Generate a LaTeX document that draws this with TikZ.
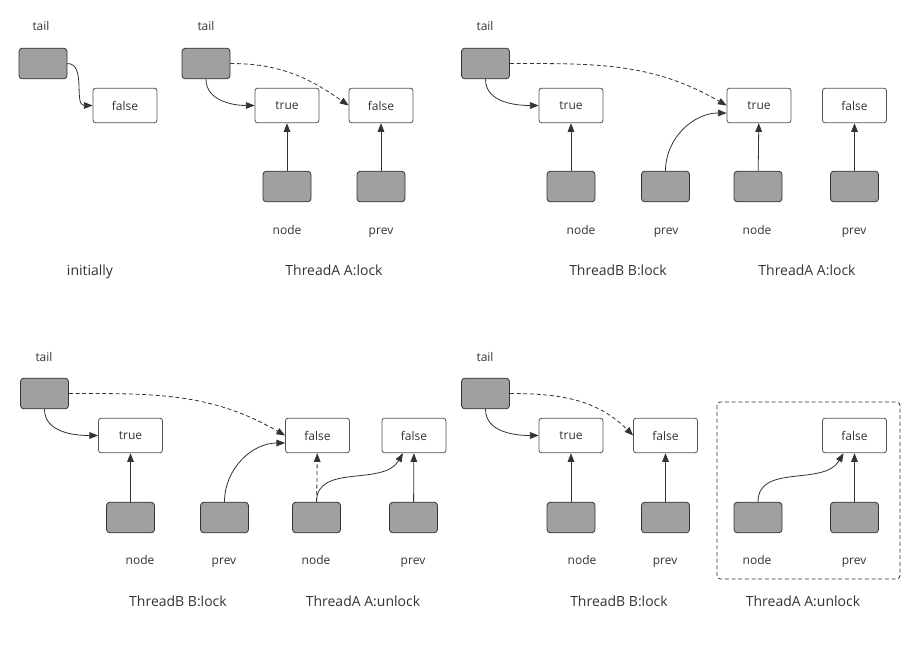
\documentclass[tikz,border=0pt]{standalone}
\usepackage{fontspec}
\setmainfont{Open Sans}
\usepackage{tikz}
\usetikzlibrary{arrows.meta}
\definecolor{boxgray}{RGB}{160 160 160}
\definecolor{linedark}{RGB}{51 51 51}
\definecolor{textdark}{RGB}{51 51 51}
\tikzstyle{cell} = [rectangle, rounded corners=2pt, minimum width=48pt, minimum height=26pt, inner sep=0pt, text centered, draw=linedark!85, fill=white, line width=0.6pt, text=textdark, font=\fontsize{9}{11}\selectfont]
\tikzstyle{ptr} = [rectangle, rounded corners=2.5pt, minimum width=36pt, minimum height=23pt, inner sep=0pt, draw=linedark, fill=boxgray, line width=0.6pt]
\tikzstyle{word} = [text=textdark, text height=1.6ex, text depth=0.4ex, font=\fontsize{9}{11}\selectfont]
\tikzstyle{caption} = [text=textdark, text height=1.6ex, text depth=0.4ex, font=\fontsize{10.5}{12}\selectfont]
\tikzstyle{arrow} = [line width=0.6pt, draw=linedark, -{Triangle[length=6.5pt,width=5pt]}]
\tikzstyle{dasharrow} = [arrow, dash pattern=on 3pt off 2pt]
\tikzstyle{frame} = [draw=linedark, line width=0.6pt, rounded corners=2.5pt, dash pattern=on 3pt off 2pt]
\begin{document}
\begin{tikzpicture}[x=0.75pt, y=0.75pt]
        \useasboundingbox (0,0) rectangle (920,-651);
        % initially
        \node (tailAlbl) [word] at (41,-26) {tail};
        \node (tailA) [ptr] at (43,-63.5) {};
        \node (falseA) [cell] at (125,-105.5) {false};
        \node (capA) [caption] at (90,-271) {initially};
        \draw [arrow] (tailA.east) to[out=0, in=180] (falseA.west);
        % ThreadA A:lock
        \node (tailBlbl) [word] at (206,-26) {tail};
        \node (tailB) [ptr] at (206,-63.5) {};
        \node (trueB) [cell] at (287,-105.5) {true};
        \node (falseB) [cell] at (381,-105.5) {false};
        \node (nodeB) [ptr] at (287,-186.5) {};
        \node (prevB) [ptr] at (381,-186.5) {};
        \node (nodeBlbl) [word] at (287,-230) {node};
        \node (prevBlbl) [word] at (381,-230) {prev};
        \node (capB) [caption] at (334,-271) {ThreadA A:lock};
        \draw [arrow] (tailB.south) to[out=-90, in=180] (trueB.west);
        \draw [dasharrow] (tailB.east) to[out=0, in=145] (falseB.west);
        \draw [arrow] (nodeB) -- (trueB);
        \draw [arrow] (prevB) -- (falseB);
        % ThreadB B:lock, ThreadA A:lock
        \node (tailClbl) [word] at (485,-26) {tail};
        \node (tailC) [ptr] at (485.5,-63.5) {};
        \node (trueC) [cell] at (571,-105.5) {true};
        \node (trueCa) [cell] at (759,-105.5) {true};
        \node (falseC) [cell] at (854.5,-105.5) {false};
        \node (nodeC) [ptr] at (571,-186.5) {};
        \node (prevC) [ptr] at (665.5,-186.5) {};
        \node (nodeCa) [ptr] at (758,-186.5) {};
        \node (prevCa) [ptr] at (854.5,-186.5) {};
        \node (nodeClbl) [word] at (581,-230) {node};
        \node (prevClbl) [word] at (666,-230) {prev};
        \node (nodeCalbl) [word] at (757,-230) {node};
        \node (prevCalbl) [word] at (854,-230) {prev};
        \node (capC) [caption] at (618,-271) {ThreadB B:lock};
        \node (capCa) [caption] at (807,-271) {ThreadA A:lock};
        \draw [arrow] (tailC.south) to[out=-90, in=180] (trueC.west);
        \draw [dasharrow] (tailC.east) to[out=0, in=150] (trueCa.west);
        \draw [arrow] (prevC.north) to[out=90, in=180] (trueCa.193);
        \draw [arrow] (nodeC) -- (trueC);
        \draw [arrow] (nodeCa) -- (trueCa);
        \draw [arrow] (prevCa) -- (falseC);
        % ThreadB B:lock, ThreadA A:unlock
        \node (tailDlbl) [word] at (44,-357) {tail};
        \node (tailD) [ptr] at (44.5,-393.5) {};
        \node (trueD) [cell] at (130.5,-435.5) {true};
        \node (falseD) [cell] at (317.5,-435.5) {false};
        \node (falseDa) [cell] at (414,-435.5) {false};
        \node (nodeD) [ptr] at (130.5,-517.5) {};
        \node (prevD) [ptr] at (224.5,-517.5) {};
        \node (nodeDa) [ptr] at (316.5,-517.5) {};
        \node (prevDa) [ptr] at (413.5,-517.5) {};
        \node (nodeDlbl) [word] at (140,-560) {node};
        \node (prevDlbl) [word] at (224,-560) {prev};
        \node (nodeDalbl) [word] at (316,-560) {node};
        \node (prevDalbl) [word] at (413,-560) {prev};
        \node (capD) [caption] at (178,-602) {ThreadB B:lock};
        \node (capDa) [caption] at (363,-602) {ThreadA A:unlock};
        \draw [arrow] (tailD.south) to[out=-90, in=180] (trueD.west);
        \draw [dasharrow] (tailD.east) to[out=0, in=150] (falseD.west);
        \draw [arrow] (prevD.north) to[out=90, in=180] (falseD.193);
        \draw [arrow] (nodeD) -- (trueD);
        \draw [dasharrow] (nodeDa) -- (falseD);
        \draw [arrow] (nodeDa.north) to[out=90, in=-120] (falseDa.238);
        \draw [arrow] (prevDa) -- (falseDa);
        % ThreadB B:lock, ThreadA A:unlock (framed)
        \node (tailElbl) [word] at (485,-357) {tail};
        \node (tailE) [ptr] at (485.5,-393.5) {};
        \node (trueE) [cell] at (571,-435.5) {true};
        \node (falseE) [cell] at (665.5,-435.5) {false};
        \node (nodeE) [ptr] at (571,-517.5) {};
        \node (prevE) [ptr] at (665.5,-517.5) {};
        \node (nodeElbl) [word] at (582,-560) {node};
        \node (prevElbl) [word] at (665,-560) {prev};
        \node (capE) [caption] at (619,-602) {ThreadB B:lock};
        \draw [frame] (717,-402) rectangle (900,-579);
        \node (falseEa) [cell] at (854.5,-435.5) {false};
        \node (nodeEa) [ptr] at (758,-517.5) {};
        \node (prevEa) [ptr] at (854.5,-517.5) {};
        \node (nodeEalbl) [word] at (757,-560) {node};
        \node (prevEalbl) [word] at (854,-560) {prev};
        \node (capEa) [caption] at (803,-602) {ThreadA A:unlock};
        \draw [arrow] (tailE.south) to[out=-90, in=180] (trueE.west);
        \draw [dasharrow] (tailE.east) to[out=0, in=135] (falseE.west);
        \draw [arrow] (nodeE) -- (trueE);
        \draw [arrow] (prevE) -- (falseE);
        \draw [arrow] (nodeEa.north) to[out=90, in=-120] (falseEa.238);
        \draw [arrow] (prevEa) -- (falseEa);
    \end{tikzpicture}
\end{document}
